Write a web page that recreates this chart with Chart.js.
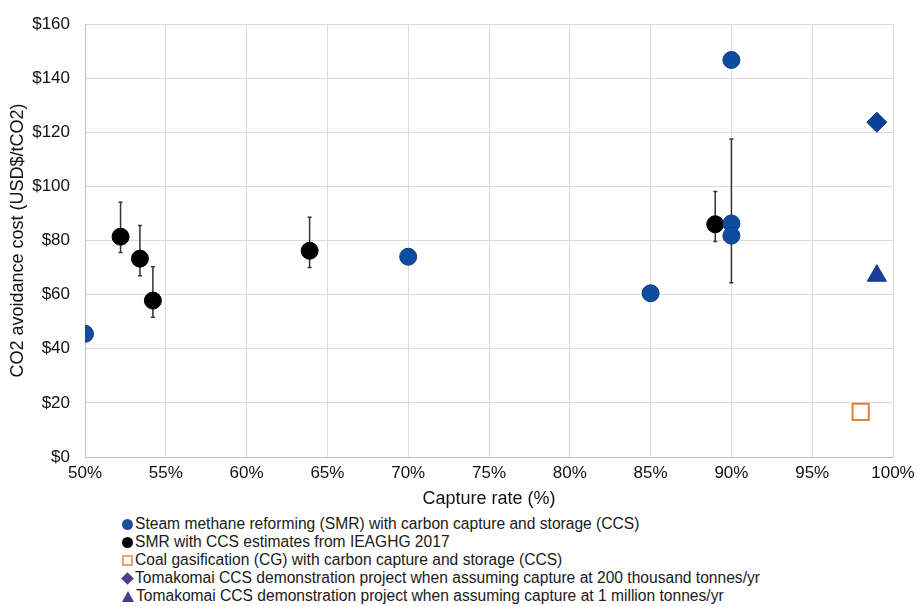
<!DOCTYPE html>
<html lang="en">

<head>
    <meta charset="UTF-8">
    <title>CO2 avoidance cost vs capture rate</title>
    <script src="https://cdn.jsdelivr.net/npm/chart.js"></script>
    <style>
        body { margin: 0; background: #fff; font-family: "Liberation Sans", Arial, sans-serif; }
        .wrap { position: absolute; left: 0; top: 0; width: 917px; height: 510px; }
        .legend { position: absolute; left: 122px; top: 515px; font-size: 15.6px; color: #1a1a1a; line-height: 18px; }
        .legend div { display: flex; align-items: center; white-space: nowrap; }
        .mk { display: inline-block; width: 11px; height: 11px; margin-right: 2px; box-sizing: border-box; }
        .mk.circle { border-radius: 50%; }
        .mk.square { border: 2px solid #f0a070; background: #fff; }
        .mk.diamond { width: 9px; height: 9px; transform: rotate(45deg); margin: 0 3px 0 1px; }
        .mk.tri { width: 0; height: 0; border-left: 6px solid transparent; border-right: 6px solid transparent; border-bottom: 11px solid #4b3a8e; }
    </style>
</head>

<body>
    <div class="wrap"><canvas id="costChart"></canvas></div>
    <div class="legend">
        <div><span class="mk circle" style="background:#1f4e9c"></span>Steam methane reforming (SMR) with carbon capture and storage (CCS)</div>
        <div><span class="mk circle" style="background:#000"></span>SMR with CCS estimates from IEAGHG 2017</div>
        <div><span class="mk square"></span>Coal gasification (CG) with carbon capture and storage (CCS)</div>
        <div><span class="mk diamond" style="background:#4b3f8f"></span>Tomakomai CCS demonstration project when assuming capture at 200 thousand tonnes/yr</div>
        <div><span class="mk tri"></span>Tomakomai CCS demonstration project when assuming capture at 1 million tonnes/yr</div>
    </div>

    <script>
        // capture rate (%) and cost (USD$/tCO2)
        const smrRate = [50, 70, 85, 90, 90, 90];
        const smrCost = [45.5, 74, 60.5, 146.7, 86.3, 81.8];
        const smrHigh = [null, null, null, null, 117.5, null];
        const smrLow = [null, null, null, null, 64.4, null];

        const ieaRate = [52.2, 53.4, 54.2, 63.9, 89];
        const ieaCost = [81.4, 73.3, 57.8, 76.2, 86];
        const ieaHigh = [94.1, 85.5, 70.3, 88.6, 98.1];
        const ieaLow = [75.6, 67, 51.6, 70, 79.6];

        const cgRate = [98];
        const cgCost = [16.7];
        const tomaRate200k = [99];
        const tomaCost200k = [123.7];
        const tomaRate1m = [99];
        const tomaCost1m = [67];

        const xTicks = [50, 55, 60, 65, 70, 75, 80, 85, 90, 95, 100];
        const yTicks = [0, 20, 40, 60, 80, 100, 120, 140, 160];

        const toPoints = (xs, ys) => xs.map((x, i) => ({ x: x, y: ys[i] }));

        // error bars, drawn under the markers
        const errorBars = {
            id: 'errorBars',
            beforeDatasetsDraw(chart) {
                const c = chart.ctx;
                const xs = chart.scales.x, ys = chart.scales.y;
                const sets = [[smrRate, smrHigh, smrLow], [ieaRate, ieaHigh, ieaLow]];
                c.save();
                c.strokeStyle = '#333';
                c.lineWidth = 1.5;
                sets.forEach(([rate, high, low]) => {
                    rate.forEach((r, i) => {
                        if (high[i] == null) return;
                        const px = xs.getPixelForValue(r);
                        const top = ys.getPixelForValue(high[i]);
                        const bot = ys.getPixelForValue(low[i]);
                        c.beginPath();
                        c.moveTo(px, top); c.lineTo(px, bot);
                        c.moveTo(px - 2, top); c.lineTo(px + 2, top);
                        c.moveTo(px - 2, bot); c.lineTo(px + 2, bot);
                        c.stroke();
                    });
                });
                c.restore();
            }
        };

        const ctx = document.getElementById('costChart');
        const chart = new Chart(ctx, {
            type: 'scatter',
            data: {
                datasets: [
                    {
                        label: 'Steam methane reforming (SMR) with carbon capture and storage (CCS)',
                        data: toPoints(smrRate, smrCost),
                        pointStyle: 'circle', pointRadius: 8.5,
                        backgroundColor: '#0d4c9e', borderColor: '#0a3c82', borderWidth: 1
                    },
                    {
                        label: 'SMR with CCS estimates from IEAGHG 2017',
                        data: toPoints(ieaRate, ieaCost),
                        pointStyle: 'circle', pointRadius: 8.5,
                        backgroundColor: '#000', borderColor: '#000', borderWidth: 1
                    },
                    {
                        label: 'Coal gasification (CG) with carbon capture and storage (CCS)',
                        data: toPoints(cgRate, cgCost),
                        pointStyle: 'rect', pointRadius: 11.5,
                        backgroundColor: '#fff', borderColor: '#e47e3a', borderWidth: 2
                    },
                    {
                        label: 'Tomakomai CCS demonstration project when assuming capture at 200 thousand tonnes/yr',
                        data: toPoints(tomaRate200k, tomaCost200k),
                        pointStyle: 'rectRot', pointRadius: 10,
                        backgroundColor: '#0b3f99', borderColor: '#0a3680', borderWidth: 1
                    },
                    {
                        label: 'Tomakomai CCS demonstration project when assuming capture at 1 million tonnes/yr',
                        data: toPoints(tomaRate1m, tomaCost1m),
                        pointStyle: 'triangle', pointRadius: 11,
                        backgroundColor: '#1a3d9a', borderColor: '#102e80', borderWidth: 1
                    }
                ]
            },
            options: {
                responsive: true,
                maintainAspectRatio: false,
                animation: false,
                layout: { padding: { left: 0, right: 24, top: 24, bottom: 0 } },
                plugins: {
                    legend: { display: false },
                    tooltip: { enabled: false }
                },
                scales: {
                    x: {
                        type: 'linear', min: 50, max: 100,
                        afterBuildTicks: (s) => { s.ticks = xTicks.map(v => ({ value: v })); },
                        afterFit: (s) => { s.height = 53; s.paddingLeft = 0; s.paddingRight = 0; },
                        grid: { color: '#dcdcdc', drawTicks: false },
                        border: { color: '#bdbdbd' },
                        ticks: {
                            padding: 6, color: '#111',
                            font: { family: 'Liberation Sans', size: 17 },
                            callback: (v) => v + '%'
                        },
                        title: {
                            display: true, text: 'Capture rate (%)', color: '#111',
                            font: { family: 'Liberation Sans', size: 18 },
                            padding: { top: 2, bottom: 0 }
                        }
                    },
                    y: {
                        min: 0, max: 160,
                        afterBuildTicks: (s) => { s.ticks = yTicks.map(v => ({ value: v })); },
                        afterFit: (s) => { s.width = 85; s.paddingTop = 0; s.paddingBottom = 0; },
                        grid: { color: '#dcdcdc', drawTicks: false },
                        border: { color: '#bdbdbd' },
                        ticks: {
                            padding: 15, color: '#111',
                            font: { family: 'Liberation Sans', size: 17 },
                            callback: (v) => '$' + v
                        },
                        title: {
                            display: true, text: 'CO2 avoidance cost (USD$/tCO2)', color: '#111',
                            font: { family: 'Liberation Sans', size: 18 },
                            padding: { top: 7, bottom: 0 }
                        }
                    }
                }
            },
            plugins: [errorBars]
        });
    </script>
</body>

</html>
